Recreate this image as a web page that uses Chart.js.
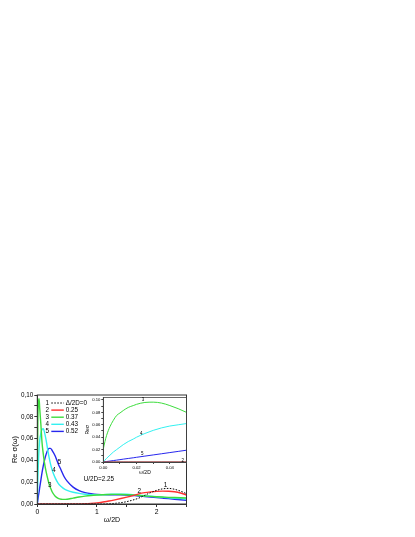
<!DOCTYPE html>
<html><head><meta charset="utf-8">
<script src="https://cdn.jsdelivr.net/npm/chart.js@4"></script>
<style>
html,body{margin:0;padding:0;background:#fff;}
#wrap{position:relative;width:415px;height:537px;background:#fff;}
canvas{position:absolute;left:0;top:0;}
</style></head><body>
<div id="wrap"><canvas id="main" width="415" height="537"></canvas><canvas id="inset" width="415" height="537"></canvas></div>
<script>
// ---- main panel data: Re σ(ω) vs ω/2D ----
const omega = [0, 0.01, 0.02, 0.03, 0.04, 0.06, 0.08, 0.1, 0.12, 0.15, 0.18, 0.2, 0.22, 0.25, 0.3, 0.35, 0.4, 0.45, 0.5, 0.6, 0.7, 0.8, 0.9, 1.0, 1.1, 1.2, 1.3, 1.4, 1.5, 1.6, 1.7, 1.8, 1.9, 2.0, 2.1, 2.2, 2.3, 2.4, 2.5];
const reDelta000 = [0,0,0,0,0,0,0,0,0,0,0,0,0,0,0,0,0,0,0,0,0,0,0,0,0,0.0002,0.0006,0.0012,0.0022,0.0036,0.0054,0.0080,0.0105,0.0125,0.0139,0.0143,0.0135,0.0118,0.0095];
const reDelta025 = [0,0,0,0,0,0,0,0,0,0,0,0,0,0,0,0,0,0,0,0,0.0001,0.0002,0.0005,0.0010,0.0018,0.0027,0.0038,0.0050,0.0063,0.0077,0.0093,0.0104,0.0111,0.0116,0.0118,0.0117,0.0112,0.0101,0.0083];
const reDelta037 = [0.021,0.079,0.093,0.0965,0.088,0.073,0.056,0.046,0.038,0.029,0.022,0.018,0.015,0.011,0.0072,0.0052,0.0044,0.0042,0.0044,0.0054,0.0064,0.0072,0.0078,0.0082,0.0085,0.0087,0.0088,0.0087,0.0085,0.0082,0.0078,0.0074,0.0070,0.0067,0.0064,0.0061,0.0059,0.0057,0.0055];
const reDelta043 = [0,0.024,0.040,0.051,0.058,0.065,0.0685,0.069,0.066,0.058,0.048,0.042,0.037,0.031,0.024,0.019,0.016,0.0138,0.0125,0.0108,0.0097,0.0090,0.0086,0.0085,0.0086,0.0088,0.0090,0.0090,0.0089,0.0086,0.0081,0.0076,0.0071,0.0066,0.0061,0.0057,0.0053,0.0049,0.0045];
const reDelta052 = [0,0.004,0.008,0.011,0.015,0.022,0.029,0.035,0.040,0.046,0.050,0.051,0.051,0.049,0.044,0.037,0.031,0.025,0.021,0.0155,0.0122,0.0104,0.0094,0.0088,0.0086,0.0085,0.0085,0.0084,0.0082,0.0078,0.0074,0.0069,0.0064,0.0059,0.0054,0.0049,0.0044,0.0039,0.0034];
const seriesNumbers = ['1','2','3','4','5'];
const deltaLabels = ['\u0394/2D=0','0.25','0.37','0.43','0.52'];
const curveLabelText = ['1','2','3','4','5'];
const curveLabelX = [2.15, 1.71, 0.21, 0.28, 0.37];
const curveLabelY = [0.0172, 0.0113, 0.0175, 0.031, 0.038];
const noteText = 'U/2D=2.25';
const noteX = 1.03, noteY = 0.0229;
const mainYTicks = [0, 0.02, 0.04, 0.06, 0.08, 0.10];
const mainXTicks = [0, 1, 2];

// ---- inset data: low-frequency region ----
const omegaInset = [0, 0.001, 0.002, 0.004, 0.006, 0.008, 0.01, 0.012, 0.015, 0.018, 0.02, 0.025, 0.03, 0.035, 0.04, 0.045, 0.05];
const insetDelta025 = [0,0,0,0,0,0,0,0,0,0,0,0,0,0,0,0,0];
const insetDelta037 = [0.021,0.033,0.043,0.057,0.067,0.075,0.079,0.083,0.088,0.091,0.093,0.096,0.0965,0.095,0.091,0.086,0.080];
const insetDelta043 = [0,0.003,0.006,0.011,0.016,0.020,0.024,0.028,0.033,0.037,0.040,0.046,0.051,0.055,0.058,0.060,0.062];
const insetDelta052 = [0,0.0004,0.0008,0.0015,0.0023,0.003,0.0038,0.0046,0.0057,0.0068,0.0076,0.0095,0.0114,0.0133,0.0152,0.0171,0.019];
const insetLabelText = ['3','4','5','2'];
const insetLabelX = [0.0239, 0.0228, 0.0234, 0.0477];
const insetLabelY = [0.100, 0.045, 0.0127, 0.002];

const FONT = "'Liberation Sans', Arial, Helvetica, sans-serif";
const colors = ['#000000', '#ff3030', '#3ddc3d', '#33f0f0', '#2727ee'];
const pts = (xs, ys) => xs.map((x, i) => ({x: x, y: ys[i]}));

const mainSets = [reDelta000, reDelta025, reDelta037, reDelta043, reDelta052].map((ys, i) => ({
  label: deltaLabels[i],
  data: pts(omega, ys),
  borderColor: colors[i],
  borderWidth: i === 0 ? 1 : 1.4,
  borderDash: i === 0 ? [1.5, 1.5] : [],
  pointRadius: 0,
  fill: false,
  cubicInterpolationMode: 'monotone'
}));

const mainDecor = {
  id: 'mainDecor',
  afterDatasetsDraw(chart) {
    const {ctx, chartArea: a, scales} = chart;
    ctx.save();
    ctx.strokeStyle = '#333';
    ctx.lineWidth = 1;
    ctx.strokeRect(a.left, a.top, a.right - a.left, a.bottom - a.top);
    // legend
    ctx.font = '6.3px ' + FONT;
    ctx.textBaseline = 'middle';
    chart.data.datasets.forEach((ds, i) => {
      const y = a.top + 8 + i * 7.1;
      ctx.fillStyle = '#000';
      ctx.textAlign = 'center';
      ctx.fillText(seriesNumbers[i], a.left + 10, y);
      ctx.beginPath();
      ctx.setLineDash(ds.borderDash);
      ctx.strokeStyle = ds.borderColor;
      ctx.lineWidth = ds.borderWidth;
      ctx.moveTo(a.left + 14, y);
      ctx.lineTo(a.left + 26.5, y);
      ctx.stroke();
      ctx.setLineDash([]);
      ctx.textAlign = 'left';
      ctx.fillText(ds.label, a.left + 28.5, y);
    });
    // curve numbers
    ctx.textAlign = 'center';
    ctx.font = '6.3px ' + FONT;
    curveLabelText.forEach((t, i) => {
      ctx.fillText(t, scales.x.getPixelForValue(curveLabelX[i]), scales.y.getPixelForValue(curveLabelY[i]));
    });
    ctx.font = '6.3px ' + FONT;
    ctx.fillText(noteText, scales.x.getPixelForValue(noteX), scales.y.getPixelForValue(noteY));
    ctx.restore();
  }
};

new Chart(document.getElementById('main'), {
  type: 'line',
  data: {datasets: mainSets},
  options: {
    responsive: false, animation: false, devicePixelRatio: 1,
    layout: {padding: {left: 0, top: 395, right: 228.5, bottom: 9}},
    plugins: {legend: {display: false}, tooltip: {enabled: false}},
    scales: {
      x: {
        type: 'linear', min: 0, max: 2.5,
        ticks: {stepSize: 0.5, autoSkip: false, maxRotation: 0, padding: 1, color: '#000',
          font: {family: FONT, size: 6.8},
          callback: v => mainXTicks.includes(v) ? String(v) : ''},
        grid: {drawOnChartArea: false, tickLength: 3, color: '#333'},
        border: {color: '#333'},
        title: {display: true, text: '\u03c9/2D', color: '#000', font: {family: FONT, size: 7}, padding: {top: 0, bottom: 3.8}},
        afterFit: s => { s.height = 24; }
      },
      y: {
        type: 'linear', min: 0, max: 0.1,
        ticks: {stepSize: 0.01, autoSkip: false, padding: 1, color: '#000',
          font: {family: FONT, size: 6.3},
          callback: v => mainYTicks.some(t => Math.abs(t - v) < 1e-6) ? v.toFixed(2).replace('.', ',') : ''},
        grid: {drawOnChartArea: false, tickLength: 3, color: '#333'},
        border: {color: '#333'},
        title: {display: true, text: 'Re \u03c3(\u03c9)', color: '#000', font: {family: FONT, size: 7.5}, padding: {top: 10.5, bottom: 0}},
        afterFit: s => { s.width = 37.3; }
      }
    }
  },
  plugins: [mainDecor]
});

// ---- inset ----
const insetSets = [insetDelta025, insetDelta037, insetDelta043, insetDelta052].map((ys, i) => ({
  data: pts(omegaInset, ys),
  borderColor: colors[i + 1],
  borderWidth: 1,
  pointRadius: 0,
  fill: false,
  cubicInterpolationMode: 'monotone'
}));

const insetDecor = {
  id: 'insetDecor',
  afterDatasetsDraw(chart) {
    const {ctx, chartArea: a, scales} = chart;
    ctx.save();
    ctx.strokeStyle = '#444';
    ctx.lineWidth = 0.8;
    ctx.strokeRect(a.left, a.top, a.right - a.left, a.bottom - a.top);
    ctx.fillStyle = '#000';
    ctx.font = '4.5px ' + FONT;
    ctx.textAlign = 'center';
    ctx.textBaseline = 'middle';
    insetLabelText.forEach((t, i) => {
      ctx.fillText(t, scales.x.getPixelForValue(insetLabelX[i]), scales.y.getPixelForValue(insetLabelY[i]));
    });
    ctx.restore();
  }
};

new Chart(document.getElementById('inset'), {
  type: 'line',
  data: {datasets: insetSets},
  options: {
    responsive: false, animation: false, devicePixelRatio: 1,
    layout: {padding: {left: 84.3, top: 397.5, right: 228.5, bottom: 61}},
    plugins: {legend: {display: false}, tooltip: {enabled: false}},
    scales: {
      x: {
        type: 'linear', min: 0, max: 0.05,
        ticks: {stepSize: 0.01, autoSkip: false, maxRotation: 0, padding: 1, color: '#000',
          font: {family: FONT, size: 4.2},
          callback: v => (Math.round(v * 100) % 2 === 0) ? v.toFixed(2) : ''},
        grid: {drawOnChartArea: false, tickLength: 2, color: '#444'},
        border: {color: '#444'},
        title: {display: true, text: '\u03c9/2D', color: '#000', font: {family: FONT, size: 5}, padding: {top: 0, bottom: 0.5}},
        afterFit: s => { s.height = 14; }
      },
      y: {
        type: 'linear', min: 0, max: 0.104,
        ticks: {stepSize: 0.01, includeBounds: false, autoSkip: false, padding: 1, color: '#000',
          font: {family: FONT, size: 4.2},
          callback: v => (Math.round(v * 100) % 2 === 0) ? v.toFixed(2) : ''},
        grid: {drawOnChartArea: false, tickLength: 2, color: '#444'},
        border: {color: '#444'},
        title: {display: true, text: 'Re\u03c3', color: '#000', font: {family: FONT, size: 5}, padding: {top: 0.7, bottom: 0}},
        afterFit: s => { s.width = 19; }
      }
    }
  },
  plugins: [insetDecor]
});
</script>
</body></html>
